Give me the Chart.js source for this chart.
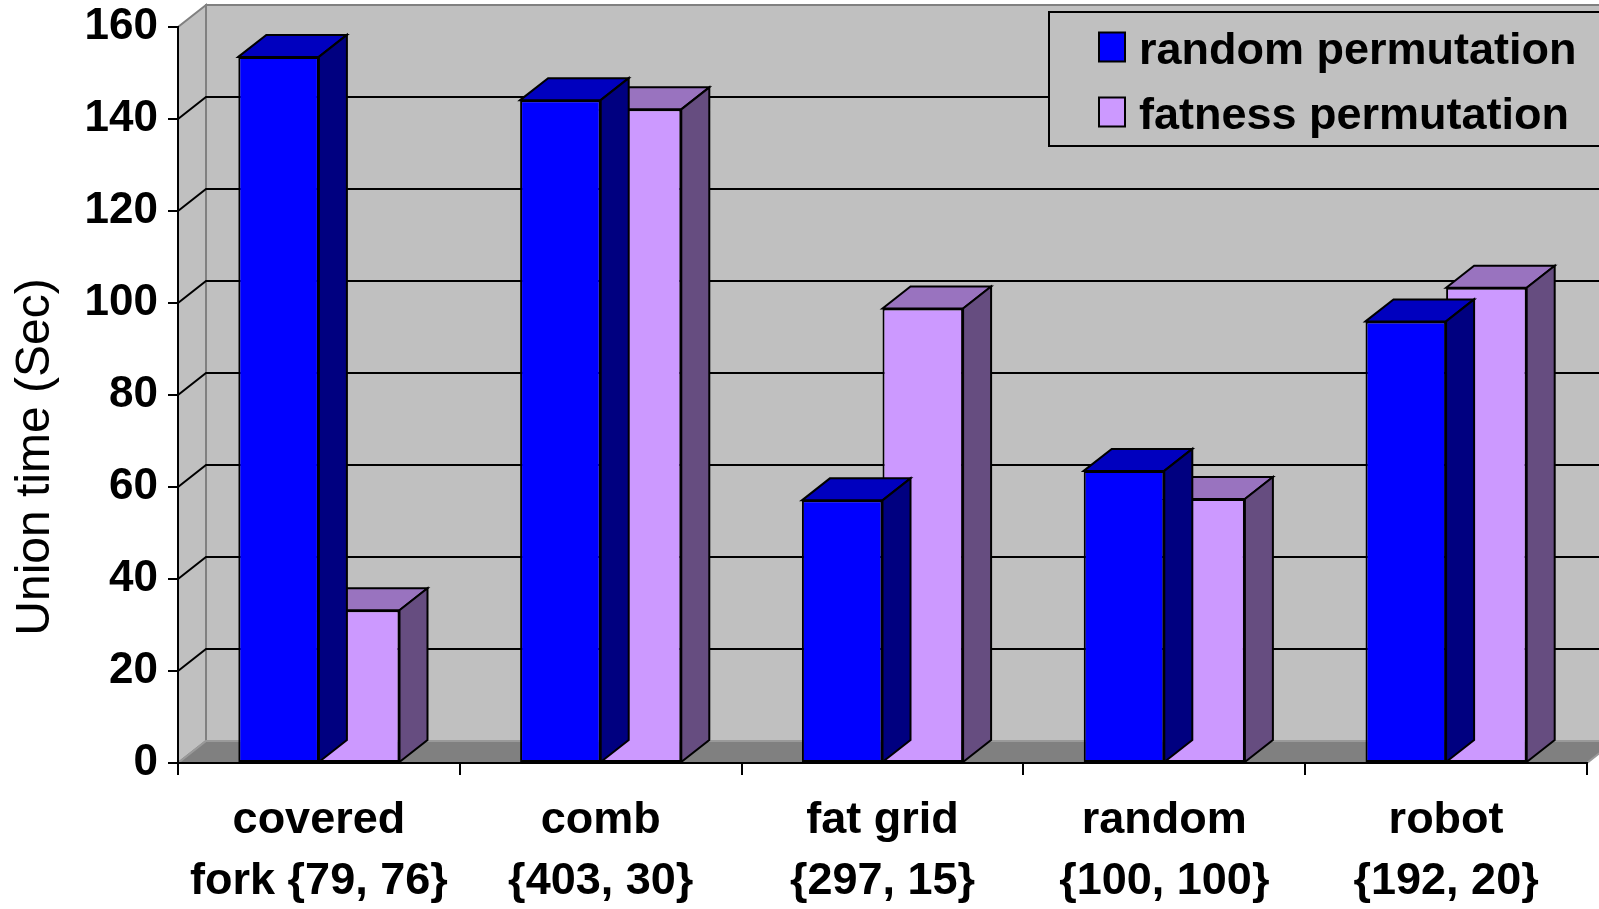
<!DOCTYPE html>
<html>
<head>
<meta charset="utf-8">
<script src="https://cdn.jsdelivr.net/npm/chart.js@4.4.1/dist/chart.umd.min.js"></script>
<style>
  html, body { margin: 0; padding: 0; background: #fff; overflow: hidden; }
  #wrap { width: 1599px; height: 909px; }
</style>
</head>
<body>
<div id="wrap"><canvas id="c" width="1599" height="909"></canvas></div>
<script>
// Benchmark inputs: name and {size pair}
const categories = [
  ['covered', 'fork {79, 76}'],
  ['comb', '{403, 30}'],
  ['fat grid', '{297, 15}'],
  ['random', '{100, 100}'],
  ['robot', '{192, 20}']
];
const seriesNames = ['random permutation', 'fatness permutation'];
// Union time in seconds
const randomPermutation = [153.5, 144.1, 57.1, 63.5, 96.0];
const fatnessPermutation = [33.2, 142.1, 98.8, 57.4, 103.3];
const yMin = 0, yMax = 160, yStep = 20;
const yTitle = 'Union time (Sec)';

const FONT = '"Liberation Sans", Arial, Helvetica, sans-serif';
const baseColors = [[0, 0, 255], [204, 153, 255]];
const DX = 28, DY = -22;   // depth offset of the 3D box

const rgb = (c, f = 1) => `rgb(${c.map(v => Math.round(v * f)).join(',')})`;

function poly(ctx, pts, fill, stroke, lw) {
  ctx.beginPath();
  ctx.moveTo(pts[0][0], pts[0][1]);
  for (let i = 1; i < pts.length; i++) ctx.lineTo(pts[i][0], pts[i][1]);
  ctx.closePath();
  if (fill) { ctx.fillStyle = fill; ctx.fill(); }
  if (stroke) { ctx.strokeStyle = stroke; ctx.lineWidth = lw || 2; ctx.stroke(); }
}

const box3d = {
  id: 'box3d',
  beforeDraw(chart) {
    const { ctx, chartArea: a, scales: { y } } = chart;
    ctx.save();
    ctx.lineJoin = 'miter';
    // back wall
    poly(ctx, [[a.left + DX, a.top + DY], [chart.width + 20, a.top + DY],
               [chart.width + 20, a.bottom + DY], [a.left + DX, a.bottom + DY]], '#c0c0c0', '#808080', 2);
    // side wall
    poly(ctx, [[a.left, a.bottom], [a.left, a.top], [a.left + DX, a.top + DY], [a.left + DX, a.bottom + DY]],
         '#c0c0c0', '#808080', 2);
    // floor
    poly(ctx, [[a.left, a.bottom], [a.left + DX, a.bottom + DY], [a.right + DX, a.bottom + DY], [a.right, a.bottom]],
         '#808080', '#9a9a9a', 2);
    // gridlines on the walls
    ctx.strokeStyle = '#000';
    ctx.lineWidth = 2;
    y.ticks.forEach(t => {
      if (t.value <= y.min || t.value >= y.max) return;
      const py = y.getPixelForValue(t.value);
      ctx.beginPath();
      ctx.moveTo(a.left, py);
      ctx.lineTo(a.left + DX, py + DY);
      ctx.lineTo(chart.width + 20, py + DY);
      ctx.stroke();
    });
    ctx.restore();
  },
  afterDatasetDraw(chart, args) {
    const { ctx } = chart;
    const c = baseColors[args.index];
    ctx.save();
    ctx.lineJoin = 'miter';
    args.meta.data.forEach(bar => {
      const p = bar.getProps(['x', 'y', 'base', 'width'], true);
      const l = p.x - p.width / 2, r = p.x + p.width / 2;
      // top face
      poly(ctx, [[l, p.y], [l + DX, p.y + DY], [r + DX, p.y + DY], [r, p.y]], rgb(c, 0.75), '#000', 2);
      // right face
      poly(ctx, [[r, p.y], [r + DX, p.y + DY], [r + DX, p.base + DY], [r, p.base]], rgb(c, 0.5), '#000', 2);
    });
    ctx.restore();
  },
  afterDraw(chart) {
    const { ctx } = chart;
    ctx.save();
    // axis title
    ctx.translate(36, 457);
    ctx.rotate(-Math.PI / 2);
    ctx.font = `48px ${FONT}`;
    ctx.fillStyle = '#000';
    ctx.textAlign = 'center';
    ctx.textBaseline = 'middle';
    ctx.fillText(yTitle, 0, 0);
    ctx.restore();

    // legend
    ctx.save();
    poly(ctx, [[1049, 12], [chart.width + 20, 12], [chart.width + 20, 146], [1049, 146]], '#c0c0c0', '#000', 2);
    const rows = [63.5, 128.5];
    chart.data.datasets.forEach((ds, i) => {
      const base = rows[i];
      poly(ctx, [[1099, base - 31], [1125, base - 31], [1125, base - 2], [1099, base - 2]],
           rgb(baseColors[i]), '#000', 2);
      ctx.font = `bold 45px ${FONT}`;
      ctx.fillStyle = '#000';
      ctx.textAlign = 'left';
      ctx.textBaseline = 'alphabetic';
      ctx.fillText(ds.label, 1139, base);
    });
    ctx.restore();
  }
};

new Chart(document.getElementById('c'), {
  type: 'bar',
  data: {
    labels: categories,
    datasets: [randomPermutation, fatnessPermutation].map((vals, i) => ({
      label: seriesNames[i],
      data: vals,
      backgroundColor: rgb(baseColors[i]),
      borderColor: '#000',
      borderWidth: 2,
      borderSkipped: false,
      categoryPercentage: 0.572,
      barPercentage: 1.0
    }))
  },
  options: {
    responsive: false,
    animation: false,
    devicePixelRatio: 1,
    layout: { padding: { top: 27, right: 12, left: 0, bottom: 0 } },
    plugins: { legend: { display: false }, tooltip: { enabled: false } },
    scales: {
      x: {
        offset: true,
        grid: { display: true, drawOnChartArea: false, drawTicks: true, tickLength: 12, color: '#000', lineWidth: 2, offset: true },
        border: { display: true, color: '#000', width: 2 },
        ticks: { color: '#000', font: { family: FONT, size: 45, weight: 'bold', lineHeight: 1.36 }, padding: 15, maxRotation: 0, autoSkip: false },
        afterFit(s) { s.height = 146; }
      },
      y: {
        min: yMin, max: yMax,
        grid: { display: true, drawOnChartArea: false, drawTicks: true, tickLength: 10, color: '#000', lineWidth: 2 },
        border: { display: true, color: '#000', width: 2 },
        ticks: { stepSize: yStep, color: '#000', font: { family: FONT, size: 44, weight: 'bold', lineHeight: 0.7 }, padding: 10 },
        afterFit(s) { s.width = 178; }
      }
    }
  },
  plugins: [box3d]
});
</script>
</body>
</html>
